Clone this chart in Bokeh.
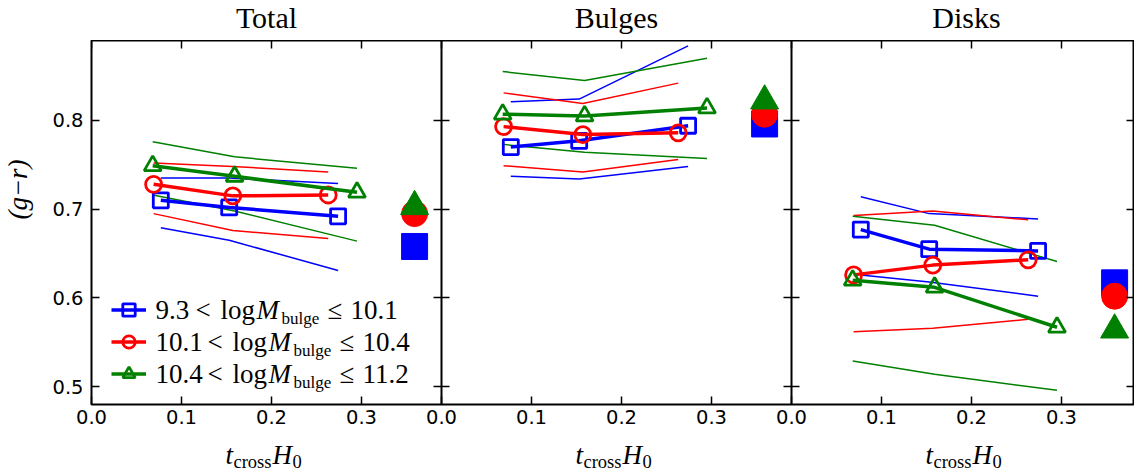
import math
from bokeh.plotting import figure
from bokeh.layouts import row, column
from bokeh.models import (Range1d, FixedTicker, LinearAxis, Label, Legend,
                          LegendItem, CustomJSTickFormatter)
from bokeh.core.properties import value
from bokeh.embed import file_html
from bokeh.resources import INLINE

# ---------------- data ----------------
panel_titles = ["Total", "Bulges", "Disks"]
bin_lo = ["9.3", "10.1", "10.4"]
bin_hi = ["10.1", "10.4", "11.2"]
colors = ["#0000ff", "#ff0000", "#008000"]
markers = ["square", "circle", "triangle"]

x_ticks = [0.0, 0.1, 0.2, 0.3]
x_tick_labels = ["0.0", "0.1", "0.2", "0.3"]
y_ticks = [0.5, 0.6, 0.7, 0.8]

# t_cross*H0 of each bin (same in all panels)
x_blue = [0.077, 0.153, 0.274]
x_red = [0.069, 0.157, 0.263]
x_green = [0.068, 0.159, 0.295]
x_global = 0.359

# Total
total_blue_med = [0.710, 0.702, 0.692]
total_blue_hi = [0.735, 0.735, 0.729]
total_blue_lo = [0.679, 0.665, 0.631]
total_red_med = [0.728, 0.715, 0.716]
total_red_hi = [0.752, 0.748, 0.742]
total_red_lo = [0.695, 0.676, 0.667]
total_green_med = [0.749, 0.737, 0.719]
total_green_hi = [0.776, 0.759, 0.746]
total_green_lo = [0.716, 0.698, 0.664]
total_global = [0.658, 0.695, 0.703]

# Bulges
bulge_blue_med = [0.770, 0.777, 0.794]
bulge_blue_hi = [0.821, 0.824, 0.884]
bulge_blue_lo = [0.737, 0.734, 0.748]
bulge_red_med = [0.793, 0.784, 0.786]
bulge_red_hi = [0.831, 0.819, 0.842]
bulge_red_lo = [0.749, 0.742, 0.756]
bulge_green_med = [0.807, 0.805, 0.814]
bulge_green_hi = [0.855, 0.845, 0.870]
bulge_green_lo = [0.773, 0.764, 0.757]
bulge_global = [0.796, 0.807, 0.822]

# Disks
disk_blue_med = [0.677, 0.655, 0.653]
disk_blue_hi = [0.714, 0.695, 0.689]
disk_blue_lo = [0.626, 0.618, 0.602]
disk_red_med = [0.626, 0.637, 0.643]
disk_red_hi = [0.693, 0.698, 0.688]
disk_red_lo = [0.562, 0.566, 0.576]
disk_green_med = [0.620, 0.612, 0.567]
disk_green_hi = [0.692, 0.682, 0.641]
disk_green_lo = [0.529, 0.514, 0.496]
disk_global = [0.617, 0.602, 0.564]

# ---------------- assemble ----------------
xs_series = [x_blue, x_red, x_green]
panels = [
    dict(med=[total_blue_med, total_red_med, total_green_med],
         hi=[total_blue_hi, total_red_hi, total_green_hi],
         lo=[total_blue_lo, total_red_lo, total_green_lo], glob=total_global),
    dict(med=[bulge_blue_med, bulge_red_med, bulge_green_med],
         hi=[bulge_blue_hi, bulge_red_hi, bulge_green_hi],
         lo=[bulge_blue_lo, bulge_red_lo, bulge_green_lo], glob=bulge_global),
    dict(med=[disk_blue_med, disk_red_med, disk_green_med],
         hi=[disk_blue_hi, disk_red_hi, disk_green_hi],
         lo=[disk_blue_lo, disk_red_lo, disk_green_lo], glob=disk_global),
]

# ---------------- layout constants ----------------
W, H = 1134, 472
FRAME_L, FRAME_T, FRAME_B = 91, 40, 404
TOP_H = 40            # strip with panel titles
BOT_H = 38            # strip with x-axis labels
YLAB_W = 40           # strip with y-axis label
MAIN_H = H - TOP_H - BOT_H
MAIN_W = W - YLAB_W
PX_PER_UNIT = 900.0
PANEL_PX = 350
frame_w = W - FRAME_L
offsets = [k * PANEL_PX / PX_PER_UNIT for k in range(3)]
y0, y1 = 0.48, 0.89

SERIF = "Liberation Serif"
SANS = "DejaVu Sans"


def strip(w, h):
    f = figure(width=w, height=h, output_backend="svg", toolbar_location=None,
               x_range=Range1d(0, 1), y_range=Range1d(0, 1),
               x_axis_location=None, y_axis_location=None,
               min_border_left=0, min_border_right=0, min_border_top=0,
               min_border_bottom=0)
    f.outline_line_color = None
    f.grid.grid_line_color = None
    f.background_fill_color = "white"
    f.border_fill_color = "white"
    return f


def txt(fig, x, y_base, text, size, style="normal", align="left", angle=0.0,
        font=SERIF, centered=False):
    """y_base: distance of the text baseline above the bottom of fig's frame."""
    yc = y_base if centered else y_base + 0.34 * size
    fig.add_layout(Label(x=x, y=yc, x_units="screen", y_units="screen", text=text,
                         text_font=font, text_font_size=f"{size}px",
                         text_font_style=style, text_color="black",
                         text_align=align, text_baseline="middle", angle=angle))


p = figure(width=MAIN_W, height=MAIN_H, output_backend="svg", toolbar_location=None,
           x_range=Range1d(0, frame_w / PX_PER_UNIT), y_range=Range1d(y0, y1),
           x_axis_location=None, y_axis_location=None,
           min_border_left=FRAME_L - YLAB_W, min_border_right=0,
           min_border_top=FRAME_T - TOP_H,
           min_border_bottom=(TOP_H + MAIN_H) - FRAME_B)
p.outline_line_color = "black"
p.outline_line_width = 2
p.outline_line_alpha = 1.0
p.background_fill_color = "white"
p.border_fill_color = "white"
p.grid.grid_line_color = None

all_xt = [off + t for off in offsets for t in x_ticks]
all_xl = [lab for off in offsets for lab in x_tick_labels]


def style_axis(ax, labels=True):
    ax.major_tick_in = 8
    ax.major_tick_out = 0
    ax.minor_tick_in = 0
    ax.minor_tick_out = 0
    ax.major_tick_line_width = 1.5
    ax.major_tick_line_color = "black"
    ax.axis_line_color = None
    ax.major_label_text_font = SANS
    ax.major_label_text_color = "black"
    if labels:
        ax.major_label_text_font_size = "19.5px"
    else:
        ax.major_label_text_font_size = "0px"
        ax.major_label_standoff = 0


xfmt = CustomJSTickFormatter(args=dict(labels=all_xl), code="return labels[index];")

ax_b = LinearAxis(ticker=FixedTicker(ticks=all_xt, minor_ticks=[]), formatter=xfmt)
style_axis(ax_b)
ax_b.major_label_standoff = 5
p.add_layout(ax_b, "below")

ax_t = LinearAxis(ticker=FixedTicker(ticks=all_xt, minor_ticks=[]),
                  formatter=CustomJSTickFormatter(code="return '';"), fixed_location=y1)
style_axis(ax_t, labels=False)
p.add_layout(ax_t, "above")

ax_l = LinearAxis(ticker=FixedTicker(ticks=y_ticks, minor_ticks=[]))
style_axis(ax_l)
ax_l.major_label_standoff = 8
p.add_layout(ax_l, "left")

ax_r = LinearAxis(ticker=FixedTicker(ticks=y_ticks, minor_ticks=[]),
                  formatter=CustomJSTickFormatter(code="return '';"),
                  fixed_location=frame_w / PX_PER_UNIT)
style_axis(ax_r, labels=False)
p.add_layout(ax_r, "right")

# inner panel borders: axes fixed at the panel edges, ticks pointing into both panels
for off in offsets[1:]:
    ax_i = LinearAxis(ticker=FixedTicker(ticks=y_ticks, minor_ticks=[]),
                      formatter=CustomJSTickFormatter(code="return '';"),
                      fixed_location=off)
    style_axis(ax_i, labels=False)
    ax_i.major_tick_out = 8
    ax_i.axis_line_color = "black"
    ax_i.axis_line_width = 2
    p.add_layout(ax_i, "left")

# ---------------- data glyphs ----------------
legend_items = []
for k, pd_ in enumerate(panels):
    off = offsets[k]
    for s in range(3):
        xs = [x + off for x in xs_series[s]]
        p.line(xs, pd_["hi"][s], line_color=colors[s], line_width=1.5)
        p.line(xs, pd_["lo"][s], line_color=colors[s], line_width=1.5)
    for s in range(3):
        xs = [x + off for x in xs_series[s]]
        rl = p.line(xs, pd_["med"][s], line_color=colors[s], line_width=3.5)
        size = {"square": 15, "circle": 16, "triangle": 17}[markers[s]]
        rm = p.scatter(xs, pd_["med"][s], marker=markers[s], size=size,
                       line_color=colors[s], line_width=2.8, fill_alpha=0)
        if k == 0:
            legend_items.append(LegendItem(label=value(" "), renderers=[rl, rm]))
    for s in range(3):
        size = {"square": 26, "circle": 26, "triangle": 28}[markers[s]]
        p.scatter([x_global + off], [pd_["glob"][s]], marker=markers[s], size=size,
                  fill_color=colors[s], line_color=colors[s], line_width=1)

legend = Legend(items=legend_items, location=(20, 15.5), padding=0, margin=0,
                spacing=1, glyph_width=35, glyph_height=31, label_standoff=0,
                label_width=0, label_height=0, label_text_font_size="1px",
                border_line_alpha=0, background_fill_alpha=0)
p.add_layout(legend)


def yrel(py):
    return FRAME_B - py


# legend texts (inside the first panel)
piece_x = [155, 195, 220, 256, 281, 327, 350]
for r in range(3):
    base_y = 309 + 32 * r + 9.5
    shift = 12 if len(bin_lo[r]) > 3 else 0
    xs_ = [piece_x[0]] + [x + shift for x in piece_x[1:]]
    txt(p, xs_[0] - FRAME_L, yrel(base_y), bin_lo[r], 27)
    txt(p, xs_[1] - FRAME_L, yrel(base_y), "<", 27)
    txt(p, xs_[2] - FRAME_L, yrel(base_y), "log", 27)
    txt(p, xs_[3] - FRAME_L, yrel(base_y), "M", 27, style="italic")
    txt(p, xs_[4] - FRAME_L, yrel(base_y + 5), "bulge", 17)
    txt(p, xs_[5] - FRAME_L, yrel(base_y), "\u2264", 27)
    txt(p, xs_[6] - FRAME_L, yrel(base_y), bin_hi[r], 27)

# ---------------- titles strip ----------------
top = strip(W, TOP_H)
for k, t in enumerate(panel_titles):
    txt(top, FRAME_L + PANEL_PX * k + 175, TOP_H - 27.5, t, 30, align="center")

# ---------------- x-label strip ----------------
bot = strip(W, BOT_H)
for k in range(3):
    base = FRAME_L + PANEL_PX * k
    txt(bot, base + 134, H - 463.5, "t", 27, style="italic")
    txt(bot, base + 142, H - 467.5, "cross", 18.5)
    txt(bot, base + 181, H - 463.5, "H", 27, style="italic")
    txt(bot, base + 201, H - 467.5, "0", 18.5)

# ---------------- y-label strip ----------------
yl = strip(YLAB_W, MAIN_H)
txt(yl, 17.5, (TOP_H + MAIN_H) - 219, "(g\u2212r)", 27, style="italic",
    align="center", angle=math.pi / 2, centered=True)

layout = column(top, row(yl, p, spacing=0), bot, spacing=0)
open("out.html", "w").write(file_html(layout, INLINE))
